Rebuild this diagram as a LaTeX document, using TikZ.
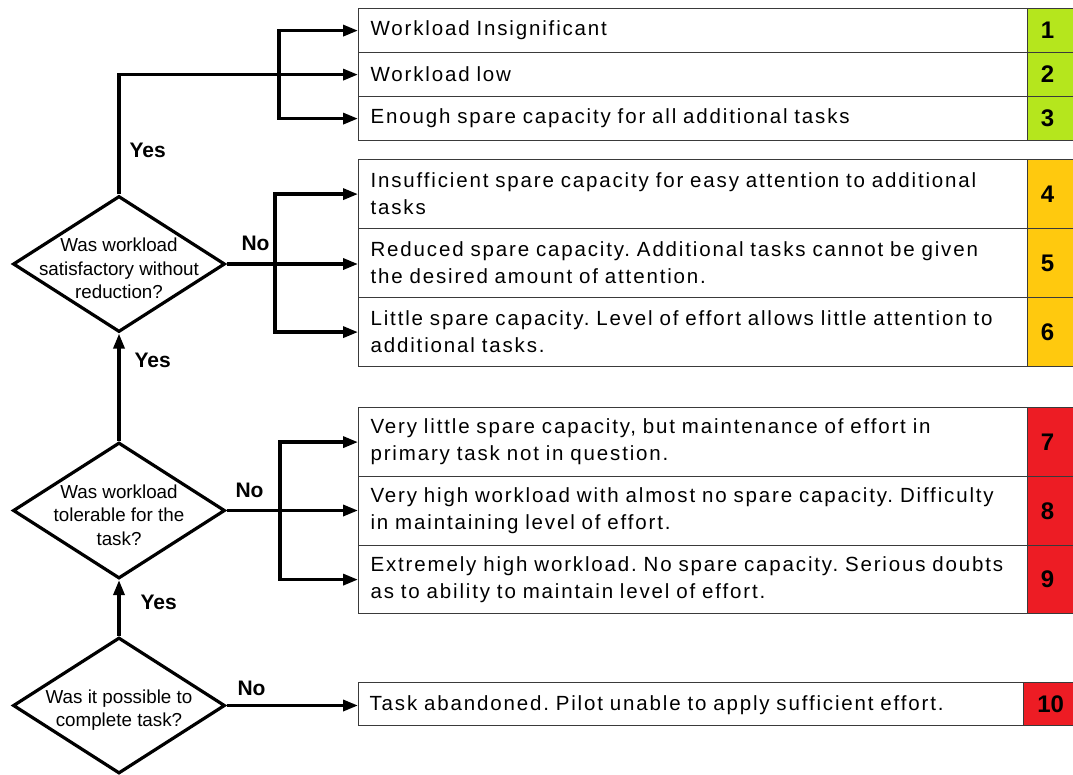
\documentclass[tikz,border=0pt]{standalone}
\usepackage{fontspec}
\setmainfont{Liberation Sans}
\newfontfamily\boxfont[LetterSpace=9]{Liberation Sans}
\usetikzlibrary{shapes.geometric,arrows.meta}
\definecolor{cgreen}{HTML}{B5E61D}
\definecolor{corange}{HTML}{FFC90E}
\definecolor{cred}{HTML}{ED1C24}
\definecolor{cline}{HTML}{3A3A3A}
\newcommand\numtxt[1]{#1\hspace*{10pt}}
\begin{document}
\frenchspacing
\begin{tikzpicture}[x=1pt,y=-1pt,
 row/.style={draw=cline, line width=1.2pt, anchor=north west, minimum width=669pt, text width=645pt, inner xsep=12pt, inner ysep=0pt, align=left, font=\boxfont\fontsize{20.5}{27}\selectfont},
 num/.style={draw=cline, line width=1.2pt, anchor=north west, minimum width=50pt, inner sep=0pt, font=\bfseries\fontsize{24}{24}\selectfont},
 dia/.style={diamond, draw=black, line width=3.2pt, minimum width=212pt, minimum height=136pt, inner sep=0pt},
 qtext/.style={align=center, font=\fontsize{18.8}{23.5}\selectfont, yshift=-4.5pt},
 lab/.style={font=\bfseries\fontsize{21}{21}\selectfont, anchor=west},
 conn/.style={line width=3.4pt, line join=miter},
 tip/.tip={Triangle[length=15pt,width=11pt]},
 arr/.style={conn, -tip},
 both/.style={conn, tip-tip},
]
\useasboundingbox (0,0) rectangle (1073,774);
\fill[white] (0,0) rectangle (1073,774);

% group 1
\node[row, minimum height=44pt] (r1) at (358,8) {Workload Insignificant};
\node[row, minimum height=44pt] (r2) at (358,52) {Workload low};
\node[row, minimum height=44pt] (r3) at (358,96) {Enough spare capacity for all additional tasks};
\node[num, fill=cgreen, minimum height=44pt] (n1) at (1027,8) {\numtxt{1}};
\node[num, fill=cgreen, minimum height=44pt] (n2) at (1027,52) {\numtxt{2}};
\node[num, fill=cgreen, minimum height=44pt] (n3) at (1027,96) {\numtxt{3}};
% group 2
\node[row, minimum height=69pt] (r4) at (358,159) {Insufficient spare capacity for easy attention to additional\\tasks};
\node[row, minimum height=69pt] (r5) at (358,228) {Reduced spare capacity. Additional tasks cannot be given\\the desired amount of attention.};
\node[row, minimum height=69pt] (r6) at (358,297) {Little spare capacity. Level of effort allows little attention to\\additional tasks.};
\node[num, fill=corange, minimum height=69pt] (n4) at (1027,159) {\numtxt{4}};
\node[num, fill=corange, minimum height=69pt] (n5) at (1027,228) {\numtxt{5}};
\node[num, fill=corange, minimum height=69pt] (n6) at (1027,297) {\numtxt{6}};
% group 3
\node[row, minimum height=69pt] (r7) at (358,407) {Very little spare capacity, but maintenance of effort in\\primary task not in question.};
\node[row, minimum height=69pt] (r8) at (358,476) {Very high workload with almost no spare capacity. Difficulty\\in maintaining level of effort.};
\node[row, minimum height=68pt] (r9) at (358,545) {Extremely high workload. No spare capacity. Serious doubts\\as to ability to maintain level of effort.};
\node[num, fill=cred, minimum height=69pt] (n7) at (1027,407) {\numtxt{7}};
\node[num, fill=cred, minimum height=69pt] (n8) at (1027,476) {\numtxt{8}};
\node[num, fill=cred, minimum height=68pt] (n9) at (1027,545) {\numtxt{9}};
% group 4
\node[row, minimum height=43pt, minimum width=665pt, text width=643pt, inner xsep=10pt, text depth=2pt] (r10) at (358,682) {Task abandoned. Pilot unable to apply sufficient effort.};
\node[num, fill=cred, minimum height=43pt, minimum width=54pt] (n10) at (1023,682) {10};

% decisions
\node[dia] (d1) at (119,264) {};
\node[qtext] (q1) at (d1) {Was workload\\satisfactory without\\reduction?};
\node[dia] (d2) at (119,510.5) {};
\node[qtext] (q2) at (d2) {Was workload\\tolerable for the\\task?};
\node[dia] (d3) at (119,705.5) {};
\node[qtext] (q3) at (d3) {Was it possible to\\complete task?};

% connectors
\coordinate (xa) at (279,0);
\coordinate (xb) at (275,0);
\coordinate (xc) at (280,0);
\draw[both] (r1.west) -- (r1.west -| xa) -- (r3.west -| xa) -- (r3.west);
\draw[arr] (d1.north) |- (r2.west);
\draw[both] (r4.west) -- (r4.west -| xb) -- (r6.west -| xb) -- (r6.west);
\draw[arr] (d1.east) -- (d1.east -| r5.west);
\draw[both] (r7.west) -- (r7.west -| xc) -- (r9.west -| xc) -- (r9.west);
\draw[arr] (d2.east) -- (d2.east -| r8.west);
\draw[arr] (d3.east) -- (d3.east -| r10.west);
\draw[arr] (d2.north) -- (d1.south);
\draw[arr] (d3.north) -- (d2.south);

% labels
\node[lab] (y1) at (126,150) {Yes};
\node[lab] (y2) at (131,360) {Yes};
\node[lab] (y3) at (137,602) {Yes};
\node[lab] (no1) at (238,243) {No};
\node[lab] (no2) at (232,490) {No};
\node[lab] (no3) at (234,688) {No};
\end{tikzpicture}
\end{document}
